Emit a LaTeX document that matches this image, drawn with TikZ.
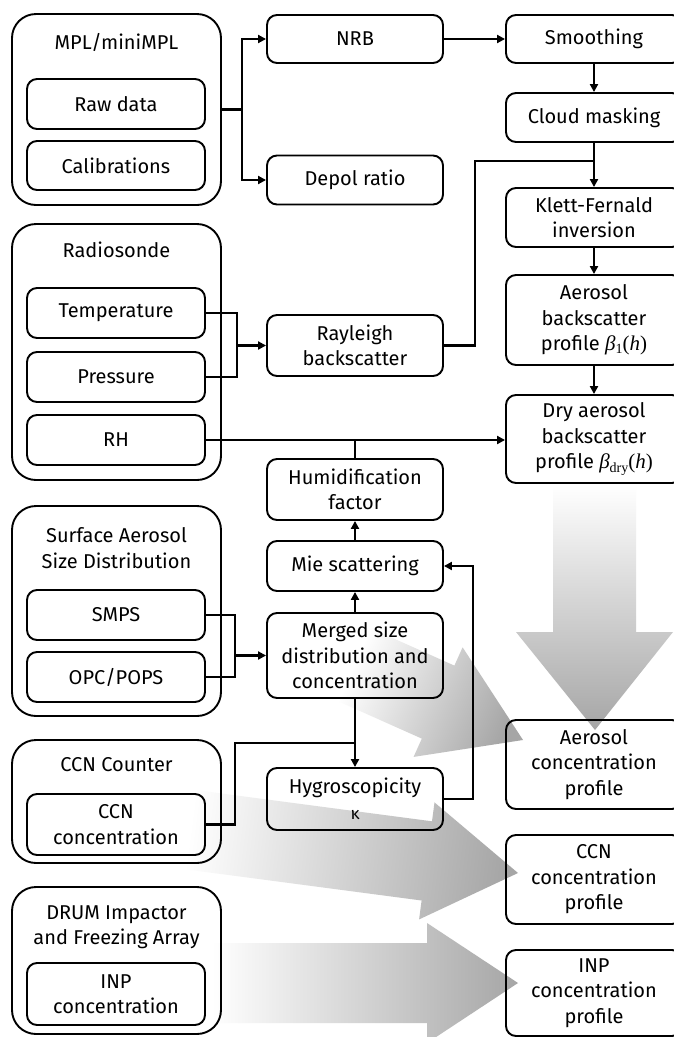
\documentclass[tikz,border=0pt]{standalone}
\usepackage{fontspec}
\setmainfont{Fira Sans}
\newfontfamily\lsf{Liberation Serif}
\usetikzlibrary{arrows.meta}
\newcommand{\mybeta}[1]{{\lsf\fontsize{21}{21}\selectfont\itshape β}{\lsf\raisebox{-0.35ex}{\fontsize{14}{14}\selectfont #1}{\fontsize{21}{21}\selectfont(\textit{h})}}}
\begin{document}
\begin{tikzpicture}[x=1pt,y=-1pt,
  font=\fontsize{20}{25.5}\selectfont,
  box/.style={draw, line width=1.9pt, rounded corners=10pt, align=center, inner sep=0pt},
  lbox/.style={box, minimum width=178pt},
  mbox/.style={box, minimum width=176pt},
  rbox/.style={box, minimum width=176pt},
  outer/.style={draw, line width=1.9pt, rounded corners=24pt, minimum width=209pt, inner sep=0pt},
  ttl/.style={align=center, inner sep=0pt},
  conn/.style={line width=2.4pt},
  arr/.style={conn, -{Triangle[length=8pt,width=8pt]}},
  bigarrow/.style={top color=white, bottom color=gray!70}
]
\fill[white] (0,0) rectangle (674,1037);
\useasboundingbox (0,0) rectangle (674,1037);

% big gradient arrows (background)
\shade[bigarrow] (553,485) -- (636,485) -- (636,632) -- (673,632) -- (595,730) -- (516,632) -- (553,632) -- cycle;
\shade[bigarrow, shading angle=65.9] (372.2,628.9) -- (454.4,665.6) -- (462.6,647.3) -- (523,740) -- (413.6,756.9) -- (421.8,738.6) -- (339.6,701.9) -- cycle;
\shade[bigarrow, shading angle=82.5] (185.2,788.7) -- (432,821.3) -- (434.5,802.4) -- (518,873) -- (419.1,919.4) -- (421.6,900.5) -- (174.8,867.9) -- cycle;
\shade[bigarrow, shading angle=90] (212,943) -- (427,943) -- (427,923) -- (518,983) -- (427,1043) -- (427,1023) -- (212,1023) -- cycle;

% outer group boxes
\node[outer, minimum height=191pt] (mpl) at (116.5,109.5) {};
\node[ttl] (mplt) at (116.5,42) {MPL/miniMPL};
\node[outer, minimum height=256pt] (rs) at (116.5,352) {};
\node[ttl] (rst) at (116.5,250) {Radiosonde};
\node[outer, minimum height=210pt] (sasd) at (116.5,611) {};
\node[ttl] (sasdt) at (116.5,548) {Surface Aerosol\\Size Distribution};
\node[outer, minimum height=123pt] (ccnb) at (116.5,801.5) {};
\node[ttl] (ccnbt) at (116.5,765) {CCN Counter};
\node[outer, minimum height=147pt] (drum) at (116.5,960.5) {};
\node[ttl] (drumt) at (116.5,927) {DRUM Impactor\\and Freezing Array};

% inner left boxes
\node[lbox, minimum height=50pt] (raw) at (116,104) {Raw data};
\node[lbox, minimum height=49pt] (cal) at (116,165.5) {Calibrations};
\node[lbox, minimum height=50pt] (temp) at (116,313) {Temperature};
\node[lbox, minimum height=50pt] (press) at (116,377) {Pressure};
\node[lbox, minimum height=50pt] (rh) at (116,440) {RH};
\node[lbox, minimum height=50pt] (smps) at (116,615) {SMPS};
\node[lbox, minimum height=50pt] (opc) at (116,677) {OPC/POPS};
\node[lbox, minimum height=61pt] (ccnc) at (116,824.5) {CCN\\concentration};
\node[lbox, minimum height=62pt] (inpc) at (116,994) {INP\\concentration};

% middle column
\node[mbox, minimum height=48pt] (nrb) at (355,39) {NRB};
\node[mbox, minimum height=49pt] (depol) at (355,180) {Depol ratio};
\node[mbox, minimum height=61pt] (ray) at (355,345.5) {Rayleigh\\backscatter};
\node[mbox, minimum height=61pt] (humid) at (355,489.5) {Humidification\\factor};
\node[mbox, minimum height=50pt] (mie) at (355,566) {Mie scattering};
\node[mbox, minimum height=85pt] (merged) at (355,655.5) {Merged size\\distribution and\\concentration};
\node[mbox, minimum height=62pt] (hygro) at (355,799) {Hygroscopicity\\[1pt]{\fontsize{17}{17}\selectfont κ}};

% right column
\node[rbox, minimum height=48pt] (smooth) at (594,39) {Smoothing};
\node[rbox, minimum height=49pt] (cloud) at (594,117.5) {Cloud masking};
\node[rbox, minimum height=59pt] (klett) at (594,217.5) {Klett-Fernald\\inversion};
\node[rbox, minimum height=90pt] (aerobs) at (594,320) {Aerosol\\backscatter\\profile \mybeta{1}};
\node[rbox, minimum height=88pt] (dry) at (594,439) {Dry aerosol\\backscatter\\profile \mybeta{dry}};
\node[rbox, minimum height=89pt] (aeroc) at (594,764.5) {Aerosol\\concentration\\profile};
\node[rbox, minimum height=89pt] (ccnp) at (594,879.5) {CCN\\concentration\\profile};
\node[rbox, minimum height=86pt] (inpp) at (594,993) {INP\\concentration\\profile};

% junction coordinates
\coordinate (jm) at (242,109.5);
\coordinate (jr) at (594,161);
\coordinate (jr1) at (475,161);
\coordinate (jt) at (237,345.5);
\coordinate (jh) at (355,440);
\coordinate (jc) at (235,743);
\coordinate (jc2) at (355,743);
\coordinate (jk) at (473,799);
\coordinate (js) at (235,655.5);

% connectors
\draw[conn] (mpl.east) -- (jm);
\draw[arr] (jm) |- (nrb.west);
\draw[arr] (jm) |- (depol.west);
\draw[arr] (nrb.east) -- (smooth.west);
\draw[arr] (smooth.south) -- (cloud.north);
\draw[arr] (cloud.south) -- (klett.north);
\draw[conn] (ray.east) -| (jr1) -- (jr);
\draw[arr] (klett.south) -- (aerobs.north);
\draw[arr] (aerobs.south) -- (dry.north);
\draw[conn] (temp.east) -| (jt);
\draw[conn] (press.east) -| (jt);
\draw[arr] (jt) -- (ray.west);
\draw[arr] (rh.east) -- (dry.west |- rh.east);
\draw[conn] (jh) -- (humid.north);
\draw[arr] (mie.north) -- (humid.south);
\draw[arr] (merged.north) -- (mie.south);
\draw[arr] (merged.south) -- (hygro.north);
\draw[conn] (ccnc.east) -| (jc) -- (jc2);
\draw[arr] (hygro.east) -- (jk) |- (mie.east);
\draw[conn] (smps.east) -| (js);
\draw[conn] (opc.east) -| (js);
\draw[arr] (js) -- (merged.west);
\end{tikzpicture}
\end{document}
